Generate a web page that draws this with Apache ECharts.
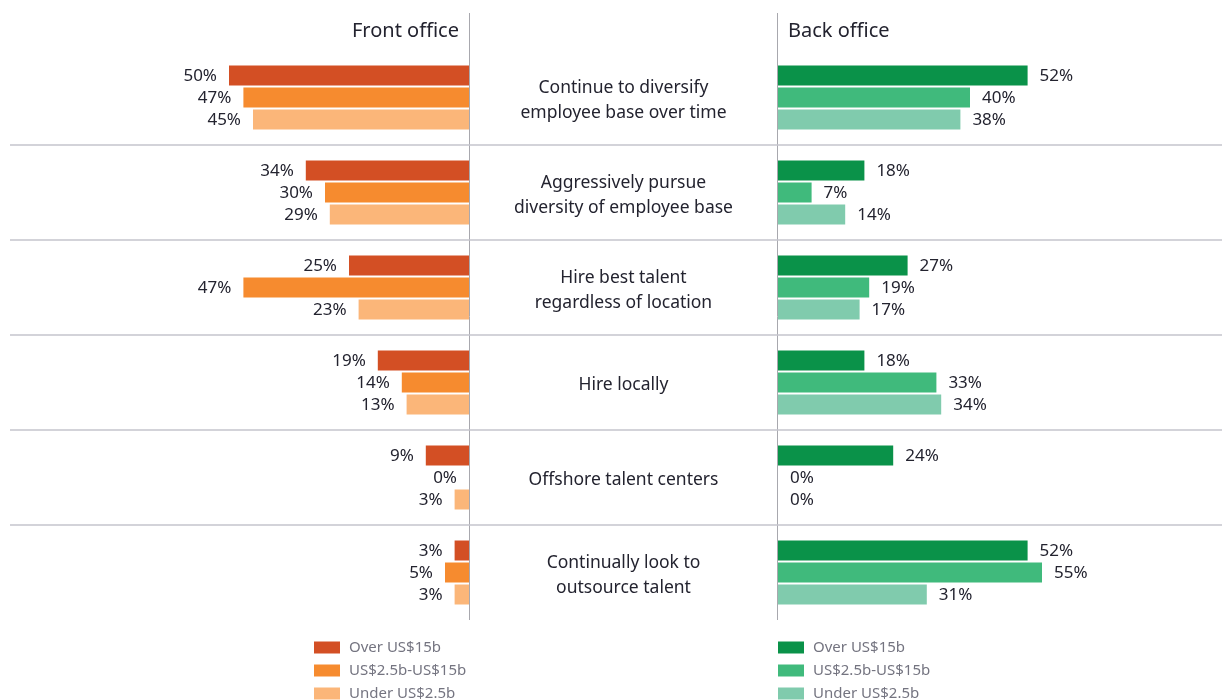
<!DOCTYPE html>
<html>
<head>
<meta charset="utf-8">
<script src="https://cdn.jsdelivr.net/npm/echarts@6/dist/echarts.min.js"></script>
<style>html,body{margin:0;padding:0;background:#fff}#chart{width:1223px;height:700px}</style>
</head>
<body>
<div id="chart"></div>
<script>
const categories = [
  'Continue to diversify\nemployee base over time',
  'Aggressively pursue\ndiversity of employee base',
  'Hire best talent\nregardless of location',
  'Hire locally',
  'Offshore talent centers',
  'Continually look to\noutsource talent'
];
const seriesNames = ['Over US$15b', 'US$2.5b-US$15b', 'Under US$2.5b'];
const frontOver  = [50, 34, 25, 19, 9, 3];
const frontMid   = [47, 30, 47, 14, 0, 5];
const frontUnder = [45, 29, 23, 13, 3, 3];
const backOver   = [52, 18, 27, 18, 24, 52];
const backMid    = [40, 7, 19, 33, 0, 55];
const backUnder  = [38, 14, 17, 34, 0, 31];
const panelTitles = ['Front office', 'Back office'];

const frontColors = ['#d34f24', '#f68b2f', '#fbb679'];
const backColors  = ['#0a9249', '#40ba7c', '#80cbad'];
const FONT = 'Noto Sans';
const TXT = '#23232f';

const W = 1223, H = 700;
const TOP = 50, BOTTOM = 80;
const LEFT_EDGE = 469, RIGHT_EDGE = 778;
const PANEL_W = 288, AXIS_MAX = 60;
const LABEL_SHIFT = 3;

const chart = echarts.init(document.getElementById('chart'), null, {renderer: 'canvas'});

function mkSeries(name, data, color, gridIdx, side) {
  return {
    type: 'bar', name: name, data: data,
    xAxisIndex: gridIdx, yAxisIndex: gridIdx,
    barWidth: 20, barGap: '10%',
    itemStyle: {color: color},
    label: {
      show: true, position: side, distance: 12, offset: [0, 1],
      formatter: '{c}%', color: TXT, fontSize: 17, fontFamily: FONT
    },
    silent: true
  };
}

function mkLegend(left, colors) {
  return {
    orient: 'vertical', left: left, top: 640, height: 90, padding: 0,
    itemWidth: 26, itemHeight: 12, itemGap: 8,
    icon: 'rect', selectedMode: false,
    textStyle: {color: '#747480', fontSize: 15, fontFamily: FONT, padding: [0, 0, 0, 4]},
    data: seriesNames.map((n, i) => ({name: n, itemStyle: {color: colors[i]}}))
  };
}

const option = {
  animation: false,
  textStyle: {fontFamily: FONT},
  title: [
    {text: panelTitles[0], right: W - LEFT_EDGE + 10, top: 21, padding: 0,
     textStyle: {fontSize: 20, fontWeight: 'normal', color: TXT, fontFamily: FONT}},
    {text: panelTitles[1], left: RIGHT_EDGE + 10, top: 21, padding: 0,
     textStyle: {fontSize: 20, fontWeight: 'normal', color: TXT, fontFamily: FONT}}
  ],
  grid: [
    {left: LEFT_EDGE - PANEL_W, width: PANEL_W, top: TOP, bottom: BOTTOM},
    {left: RIGHT_EDGE, width: PANEL_W, top: TOP, bottom: BOTTOM},
    {left: 10, right: 1, top: TOP, bottom: BOTTOM},
    {left: LEFT_EDGE, width: RIGHT_EDGE - LEFT_EDGE, top: TOP + LABEL_SHIFT, bottom: BOTTOM - LABEL_SHIFT}
  ],
  xAxis: [
    {gridIndex: 0, type: 'value', min: 0, max: AXIS_MAX, inverse: true, show: false},
    {gridIndex: 1, type: 'value', min: 0, max: AXIS_MAX, show: false},
    {gridIndex: 2, type: 'value', min: 0, max: 1, show: false},
    {gridIndex: 3, type: 'value', min: 0, max: 1, show: false}
  ],
  yAxis: [
    {gridIndex: 0, type: 'category', data: categories, inverse: true, show: false},
    {gridIndex: 1, type: 'category', data: categories, inverse: true, show: false},
    {gridIndex: 2, type: 'category', data: categories, inverse: true,
     axisLine: {show: false}, axisTick: {show: false}, axisLabel: {show: false},
     splitLine: {show: true, interval: 0,
       lineStyle: {width: 1.5, color: ['rgba(0,0,0,0)', '#c4c4cd', '#c4c4cd', '#c4c4cd', '#c4c4cd', '#c4c4cd', 'rgba(0,0,0,0)']}}},
    {gridIndex: 3, type: 'category', data: categories, inverse: true, position: 'left',
     axisLine: {show: false}, axisTick: {show: false}, splitLine: {show: false},
     axisLabel: {inside: true, align: 'center', margin: (RIGHT_EDGE - LEFT_EDGE) / 2, color: TXT,
                 fontSize: 17.5, lineHeight: 25, fontFamily: FONT}}
  ],
  legend: [mkLegend(314, frontColors), mkLegend(RIGHT_EDGE, backColors)],
  graphic: [
    {type: 'line', silent: true, shape: {x1: LEFT_EDGE + 0.5, y1: 13, x2: LEFT_EDGE + 0.5, y2: H - BOTTOM},
     style: {stroke: '#a8a8ae', lineWidth: 1}},
    {type: 'line', silent: true, shape: {x1: RIGHT_EDGE - 0.5, y1: 13, x2: RIGHT_EDGE - 0.5, y2: H - BOTTOM},
     style: {stroke: '#a8a8ae', lineWidth: 1}}
  ],
  series: [
    mkSeries(seriesNames[0], frontOver, frontColors[0], 0, 'left'),
    mkSeries(seriesNames[1], frontMid, frontColors[1], 0, 'left'),
    mkSeries(seriesNames[2], frontUnder, frontColors[2], 0, 'left'),
    mkSeries(seriesNames[0], backOver, backColors[0], 1, 'right'),
    mkSeries(seriesNames[1], backMid, backColors[1], 1, 'right'),
    mkSeries(seriesNames[2], backUnder, backColors[2], 1, 'right')
  ]
};
chart.setOption(option);
</script>
</body>
</html>
